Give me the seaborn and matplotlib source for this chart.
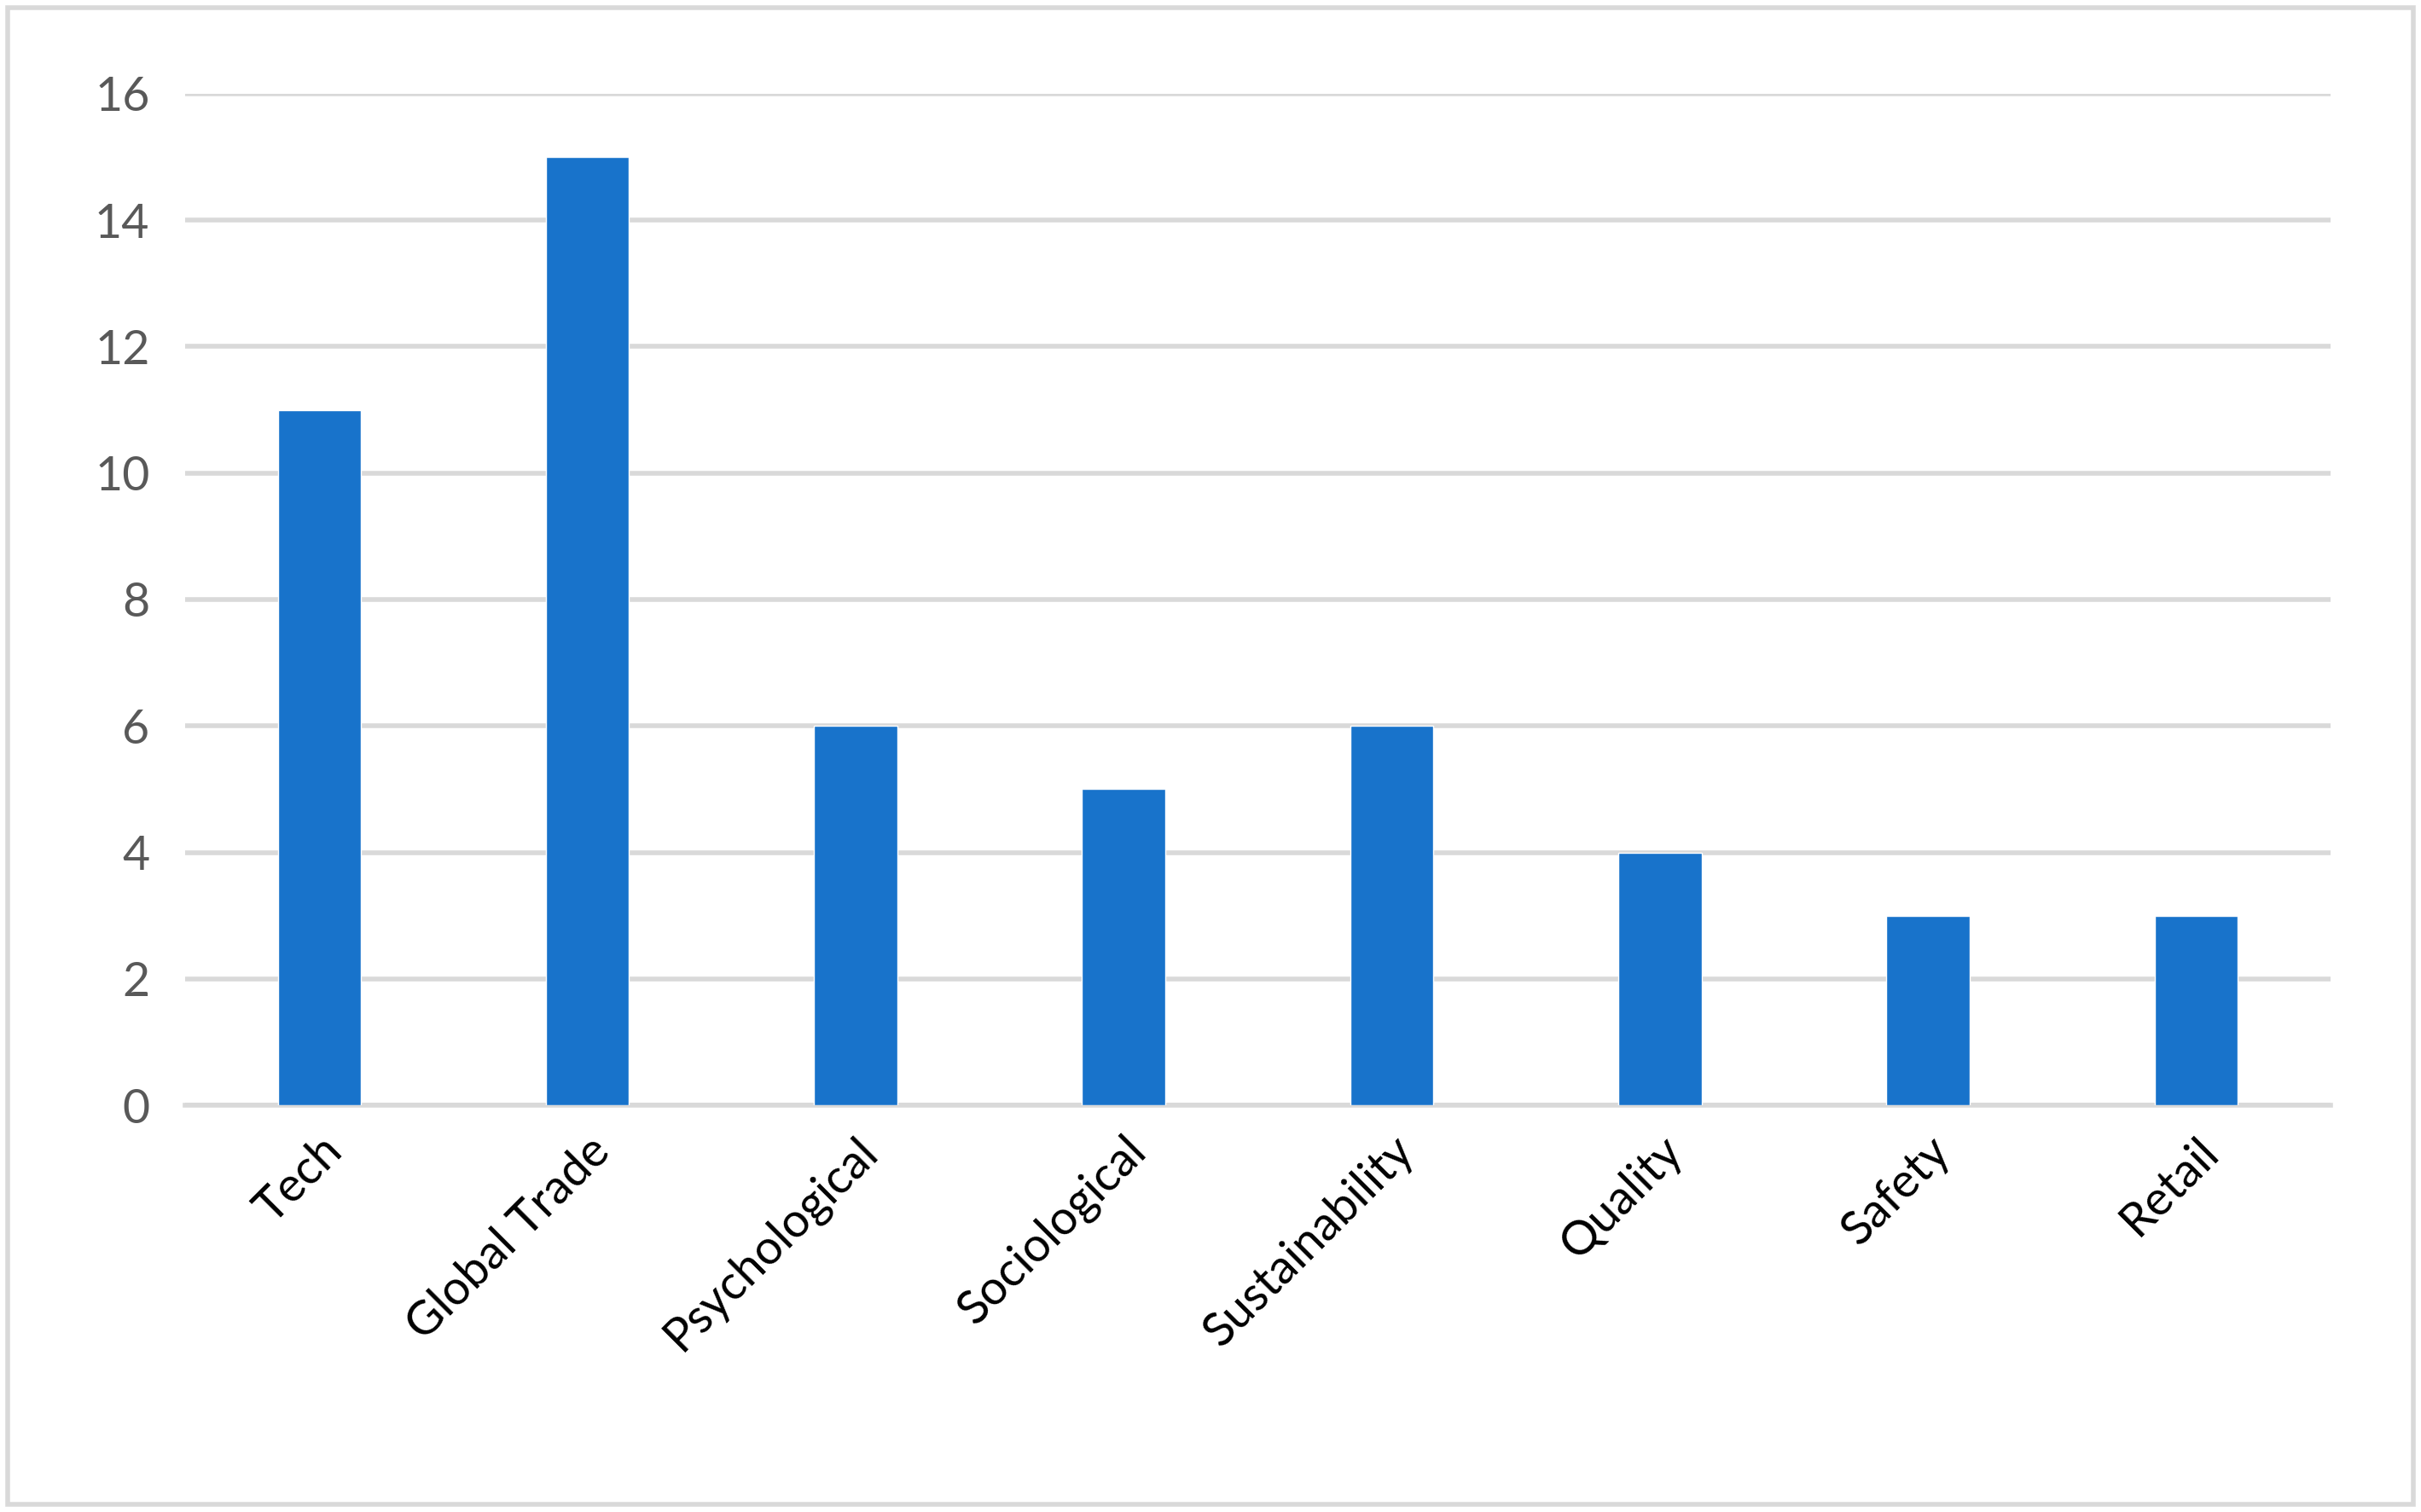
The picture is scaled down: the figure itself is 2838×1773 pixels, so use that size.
import matplotlib
matplotlib.use("Agg")
import matplotlib.pyplot as plt
import seaborn as sns
import pandas as pd

categorias = ["Tech", "Global Trade", "Psychological", "Sociological",
              "Sustainability", "Quality", "Safety", "Retail"]
valores = [11, 15, 6, 5, 6, 4, 3, 3]
ticks_y = [0, 2, 4, 6, 8, 10, 12, 14, 16]

sns.set_theme(style="white")
plt.rcParams['font.family'] = ['Lato', 'DejaVu Sans']

df = pd.DataFrame({"cat": categorias, "val": valores})

fig = plt.figure(figsize=(28.38, 17.73), dpi=100)
ax = fig.add_axes([0.0765, 0.269, 0.886, 0.669])
sns.barplot(data=df, x="cat", y="val", color="#1873CB", saturation=1,
            width=0.31, ax=ax, zorder=3)

ax.set_ylim(0, 16)
ax.set_yticks(ticks_y)
ax.set_xlim(-0.5, len(categorias) - 0.5)
ax.grid(axis="y", color="#D9D9D9", linewidth=4, zorder=0)
for s in ["top", "right", "left"]:
    ax.spines[s].set_visible(False)
ax.spines["bottom"].set_color("#D9D9D9")
ax.spines["bottom"].set_linewidth(4)
ax.set_xlabel("")
ax.set_ylabel("")
ax.tick_params(axis="y", labelsize=40, labelcolor="#595959", length=0, pad=30)
ax.tick_params(axis="x", labelsize=40, labelcolor="#000000", length=0, pad=20)
plt.setp(ax.get_xticklabels(), rotation=45, ha="right", rotation_mode="anchor")

# marco exterior
fig.patches.append(plt.Rectangle((0.003, 0.005), 0.994, 0.99, transform=fig.transFigure,
                                 fill=False, edgecolor="#D9D9D9", linewidth=4))

fig.savefig("out.png", dpi=100)
